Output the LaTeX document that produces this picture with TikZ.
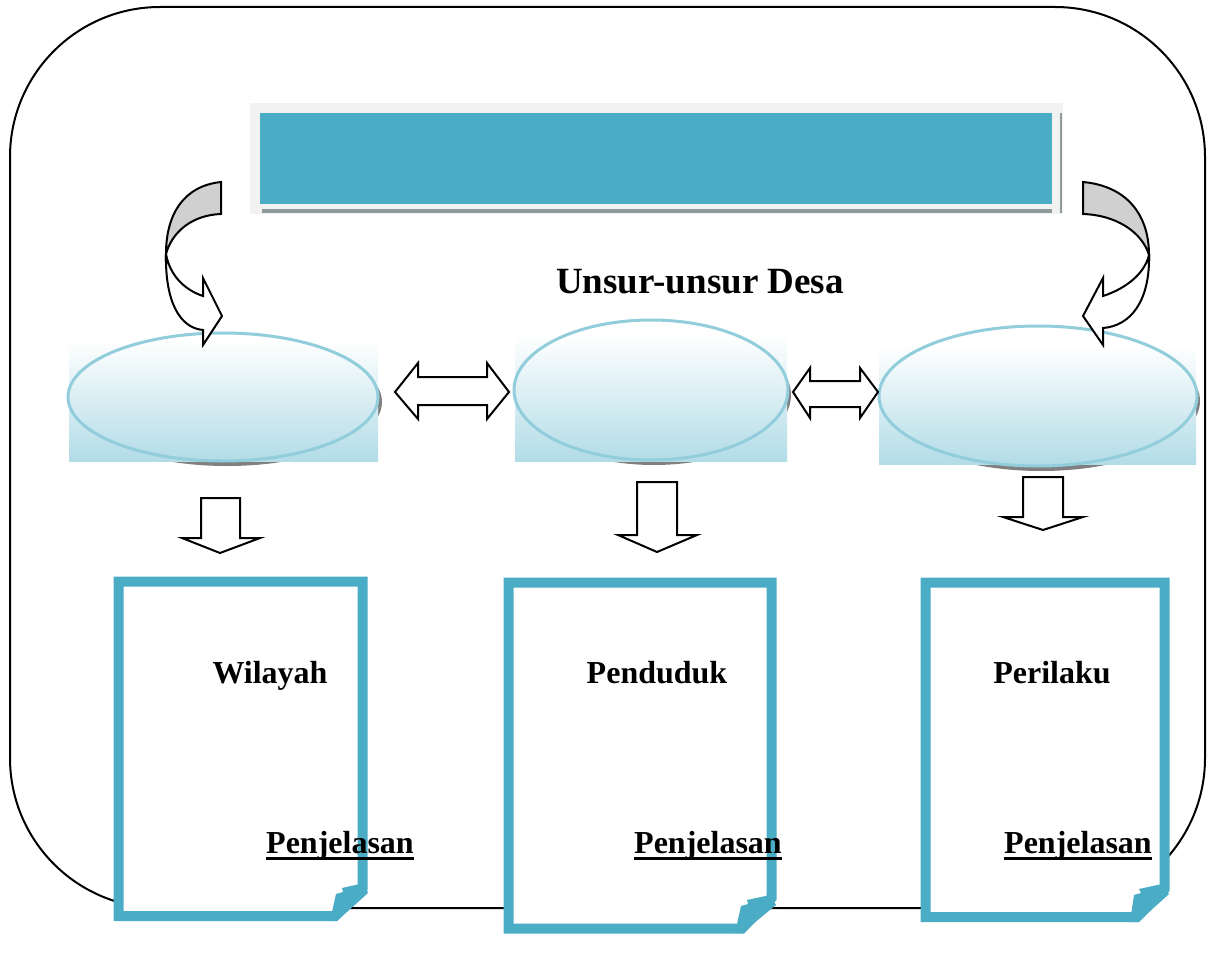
\documentclass[tikz,border=0pt]{standalone}
\usepackage{fontspec}
\setmainfont{Liberation Serif}
\definecolor{teal1}{HTML}{4BACC6}
\definecolor{ecol}{HTML}{B2DCE7}
\definecolor{eline}{HTML}{92CDDC}
\definecolor{bargray}{HTML}{F2F2F2}
\definecolor{barshadow}{HTML}{8E9A9C}
\definecolor{grayband}{HTML}{D0D0D0}
\begin{document}
\begin{tikzpicture}[x=0.5pt,y=-0.5pt,
  frame/.style={draw=black, line width=1pt},
  blk/.style={draw=black, line width=1pt, fill=white, line join=miter},
  band/.style={draw=black, line width=1pt, fill=grayband},
  doc/.style={draw=teal1, line width=5pt, fill=white, line join=miter},
  ell/.style={draw=eline, line width=1.5pt},
  shadowell/.style={fill=black!50},
  grad/.style={top color=white, bottom color=ecol},
  lbl/.style={font=\fontsize{16}{19}\selectfont\bfseries, anchor=base, inner sep=0pt},
  ttl/.style={font=\fontsize{18.5}{22}\selectfont\bfseries, anchor=base},
  uline/.style={draw=black, line width=1.4pt}]
\useasboundingbox (0,0) rectangle (1210,974);
% outer frame
\draw[frame, rounded corners=75pt] (10,7) rectangle (1205,908);
% top bar
\fill[bargray] (250,103) rectangle (1063,214);
\fill[teal1] (260,113) rectangle (1052,204);
\fill[barshadow] (262,209) rectangle (1052,212.5);
\fill[barshadow] (1060,113) rectangle (1062,213);
% ellipses
\begin{scope}
\clip (0,340) rectangle (1210,974);
\fill[shadowell] (227,402) ellipse [x radius=77.5pt, y radius=32pt];
\end{scope}
\shade[grad] (69,340) rectangle (378,461);
\draw[ell] (223,397) ellipse [x radius=77.5pt, y radius=32pt];
\begin{scope}
\clip (0,335) rectangle (1210,974);
\fill[shadowell] (654,395) ellipse [x radius=68.5pt, y radius=35pt];
\end{scope}
\shade[grad] (515,335) rectangle (787,461);
\draw[ell] (651,390) ellipse [x radius=68.5pt, y radius=35pt];
\begin{scope}
\clip (0,345) rectangle (1210,974);
\fill[shadowell] (1041,401) ellipse [x radius=79.5pt, y radius=35pt];
\end{scope}
\shade[grad] (879,345) rectangle (1196,464);
\draw[ell] (1038,396) ellipse [x radius=79.5pt, y radius=35pt];
% curved arrows left
\draw[band] (221,182) .. controls (183,186) and (166,215) .. (166,254)
  .. controls (172,232) and (192,215) .. (221,214) -- cycle;
\draw[blk] (166,254) .. controls (165,302) and (180,328) .. (203,330)
  -- (203,345) -- (222,316) -- (203,278) -- (203,296)
  .. controls (185,290) and (170,276) .. (166,254) -- cycle;
% curved arrows right
\draw[band] (1083,182) .. controls (1127,186) and (1149,215) .. (1149,255)
  .. controls (1142,232) and (1116,215) .. (1083,214) -- cycle;
\draw[blk] (1149,255) .. controls (1150,302) and (1130,326) .. (1103,328)
  -- (1103,345) -- (1083,316) -- (1103,278) -- (1103,296)
  .. controls (1122,290) and (1144,276) .. (1149,255) -- cycle;
\node[ttl] (title) at (700,293) {Unsur-unsur Desa};
% double arrows
\draw[blk] (395,392) -- (418,363) -- (418,377) -- (487,377) -- (487,363) -- (509,392)
  -- (487,419) -- (487,405) -- (418,405) -- (418,419) -- cycle;
\draw[blk] (793,392) -- (810,368) -- (810,381) -- (860,381) -- (860,368) -- (878,392)
  -- (860,418) -- (860,407) -- (810,407) -- (810,418) -- cycle;
% down arrows
\draw[blk] (201,498) -- (240,498) -- (240,538) -- (260,538) -- (220,553) -- (182,538) -- (201,538) -- cycle;
\draw[blk] (637,482) -- (677,482) -- (677,535) -- (697,535) -- (657,552) -- (618,535) -- (637,535) -- cycle;
\draw[blk] (1023,477) -- (1063,477) -- (1063,517) -- (1083,517) -- (1043,530) -- (1003,517) -- (1023,517) -- cycle;
% documents
\draw[doc] (118.5,581.5) -- (362.5,581.5) -- (362.5,888) -- (335,916) -- (118.5,916) -- cycle;
\fill[teal1] (330,921) -- (336,894) -- (343,892) -- (342,888) -- (364,883) -- (368,893) -- (337,921) -- cycle;
\draw[doc] (508.5,582.5) -- (771.5,582.5) -- (771.5,898) -- (742,928.5) -- (508.5,928.5) -- cycle;
\fill[teal1] (735,933) -- (741,906) -- (748,904) -- (747,900) -- (770,895) -- (776,905) -- (742,933) -- cycle;
\draw[doc] (925.5,582.5) -- (1164.5,582.5) -- (1164.5,889) -- (1137,917) -- (925.5,917) -- cycle;
\fill[teal1] (1130,922) -- (1134,895) -- (1141,893) -- (1139,889) -- (1162,884) -- (1169,894) -- (1138,922) -- cycle;
% labels
\node[lbl] (w) at (270,683) {Wilayah};
\node[lbl] (p) at (657,683) {Penduduk};
\node[lbl] (r) at (1052,683) {Perilaku};
\node[lbl] (e1) at (340,853) {Penjelasan};
\node[lbl] (e2) at (708,853) {Penjelasan};
\node[lbl] (e3) at (1078,853) {Penjelasan};
\foreach \n in {e1,e2,e3}
  \draw[uline] ([yshift=-2.6pt]\n.base west) -- ([yshift=-2.6pt]\n.base east);
\end{tikzpicture}
\end{document}
